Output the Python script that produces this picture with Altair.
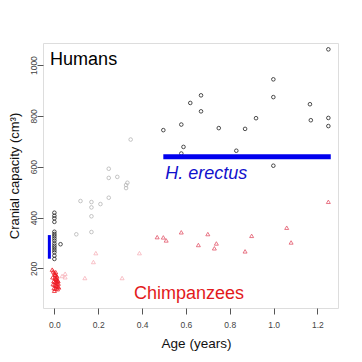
import altair as alt
import pandas as pd

FONT = "Liberation Sans"

# Human skulls near birth (black circles)
h0_x = [0.0, 0.0, 0.0, 0.0, 0.0, 0.0, 0.0, 0.0, 0.0, 0.0, 0.0, 0.0, 0.0, 0.0, 0.0, 0.0, 0.028]
h0_y = [419, 407, 397, 383, 344, 335, 327, 318, 309, 298, 289, 281, 272, 263, 250, 237, 295]

# Human juveniles (grey circles)
hg_x = [0.100, 0.119, 0.169, 0.169, 0.169, 0.169, 0.210, 0.248, 0.248, 0.248, 0.287, 0.327, 0.327, 0.333, 0.348]
hg_y = [334, 465, 461, 440, 405, 343, 453, 592, 556, 478, 560, 528, 516, 537, 707]

# Human older (black circles)
h1_x = [0.497, 0.579, 0.579, 0.589, 0.620, 0.669, 0.669, 0.750, 0.830, 0.870, 0.920,
        0.999, 0.999, 0.999, 1.166, 1.170, 1.250, 1.250, 1.250]
h1_y = [744, 766, 652, 678, 851, 881, 818, 752, 663, 749, 791,
        944, 874, 604, 846, 783, 1062, 792, 760]

# Chimpanzees near birth (red triangles)
c0_x = [-0.010, -0.005, 0.000, 0.003, 0.008, 0.012, -0.008, 0.002, 0.006, 0.010,
        0.015, -0.003, 0.004, 0.009, 0.013, 0.018, -0.006, 0.001, 0.007, 0.011,
        0.016, 0.020, -0.002, 0.005, 0.014, 0.003, 0.009, 0.017, 0.000, 0.006]
c0_y = [195, 188, 182, 176, 172, 168, 165, 162, 158, 155,
        152, 150, 147, 145, 142, 140, 138, 135, 132, 130,
        128, 125, 122, 120, 118, 175, 160, 150, 112, 185]

# Chimpanzee juveniles (light pink triangles)
cp_x = [0.035, 0.049, 0.049, 0.139, 0.178, 0.189, 0.309, 0.388]
cp_y = [170, 179, 165, 162, 225, 260, 162, 260]

# Chimpanzees older (red triangles)
c1_x = [0.469, 0.497, 0.510, 0.579, 0.657, 0.700, 0.730, 0.739, 0.870, 0.900, 1.060, 1.080, 1.250]
c1_y = [323, 322, 310, 342, 292, 335, 279, 298, 267, 328, 360, 302, 462]

# Blue reference bars
erectus_seg = {"x": [0.497], "x2": [1.261], "y": [639]}
newborn_seg = {"x": [-0.023], "y": [238], "y2": [331]}

x_ticks = [0.0, 0.2, 0.4, 0.6, 0.8, 1.0, 1.2]
y_ticks = [200, 400, 600, 800, 1000]

xs = alt.Scale(domain=[-0.052, 1.294], nice=False, zero=False)
ys = alt.Scale(domain=[44, 1087], nice=False, zero=False)

X = alt.X("x:Q", scale=xs, axis=alt.Axis(
    values=x_ticks, format=".1f", title="Age (years)", grid=False,
    tickSize=6, labelPadding=6, labelFontSize=8.5, labelColor="#444",
    labelFont=FONT, labelFlush=False, labelOverlap=False,
    tickColor="#555", domain=False,
    titleFont=FONT, titleFontSize=13.5, titleFontWeight="normal", titleColor="#111",
    titleX=153, titleY=39, titleBaseline="alphabetic"))
Y = alt.Y("y:Q", scale=ys, axis=alt.Axis(
    values=y_ticks, format="d", title="Cranial capacity (cm³)", grid=False,
    tickSize=6, labelPadding=1, labelFontSize=8.5, labelColor="#444",
    labelFont=FONT, labelAngle=270, labelAlign="center", labelBaseline="alphabetic",
    labelFlush=False, labelOverlap=False,
    tickColor="#555", domain=False,
    titleFont=FONT, titleFontSize=13, titleFontWeight="normal", titleColor="#111",
    titleX=-25, titleBaseline="alphabetic"))


def pts(xv, yv, shape, color, size, sw=0.8):
    df = pd.DataFrame({"x": xv, "y": yv})
    return alt.Chart(df).mark_point(shape=shape, filled=False, color=color,
                                    size=size, strokeWidth=sw, opacity=1).encode(x=X, y=Y)


layers = [
    pts(hg_x, hg_y, "circle", "#b5b5b5", 13),
    pts(cp_x, cp_y, "triangle-up", "#f6b3ba", 16),
    pts(c1_x, c1_y, "triangle-up", "#e2566a", 16),
    pts(c0_x, c0_y, "triangle-up", "#ee1c24", 16),
    pts(h0_x, h0_y, "circle", "#222222", 13),
    pts(h1_x, h1_y, "circle", "#222222", 13),
]

er = alt.Chart(pd.DataFrame(erectus_seg)).mark_rule(color="#0000ee", strokeWidth=5, strokeCap="butt").encode(
    x=X, x2="x2:Q", y=Y)
nb = alt.Chart(pd.DataFrame(newborn_seg)).mark_rule(color="#0000ee", strokeWidth=3, strokeCap="butt").encode(
    x=X, y=Y, y2="y2:Q")

txt_h = alt.Chart(pd.DataFrame({"x": [-0.0196], "y": [1000], "t": ["Humans"]})).mark_text(
    align="left", baseline="alphabetic", fontSize=18, font=FONT, color="#000").encode(x=X, y=Y, text="t:N")
txt_e = alt.Chart(pd.DataFrame({"x": [0.506], "y": [551], "t": ["H. erectus"]})).mark_text(
    align="left", baseline="alphabetic", fontSize=18, font=FONT, fontStyle="italic", color="#1111cc").encode(
    x=X, y=Y, text="t:N")
txt_c = alt.Chart(pd.DataFrame({"x": [0.614], "y": [79], "t": ["Chimpanzees"]})).mark_text(
    align="center", baseline="alphabetic", fontSize=18, font=FONT, color="#e31a1c").encode(
    x=X, y=Y, text="t:N")

chart = alt.layer(*layers, er, nb, txt_h, txt_e, txt_c).properties(
    width=295, height=265,
    autosize=alt.AutoSizeParams(type="none"),
    padding={"left": 35, "top": 35, "right": 8, "bottom": 44},
).configure_view(stroke="#666", strokeWidth=1).configure(background="white")

chart.save("out.html", embed_options={"renderer": "svg", "actions": False})
